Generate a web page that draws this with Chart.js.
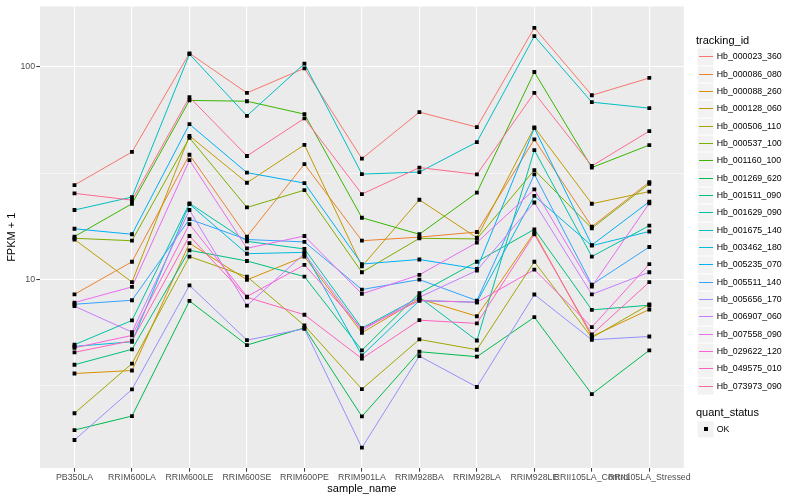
<!DOCTYPE html>
<html>
<head>
<meta charset="utf-8">
<script src="https://cdn.jsdelivr.net/npm/chart.js@4.4.0/dist/chart.umd.min.js"></script>
<style>
  body { margin: 0; background: #fff; }
  #wrap { position: relative; width: 800px; height: 500px; font-family: "Liberation Sans", Arial, sans-serif; }
  #chart { position: absolute; left: 0; top: 0; }
  .lg-title { position: absolute; left: 696px; font-size: 11px; line-height: 13px; color: #000; white-space: nowrap; }
  .lg-key { position: absolute; left: 697px; width: 17.3px; height: 17.3px; background: #F2F2F2; box-shadow: inset 0 0 0 0.5px #fff; }
  .lg-line { position: absolute; left: 1.5px; right: 1.5px; top: 8.1px; height: 1.1px; }
  .lg-text { position: absolute; left: 716.7px; font-size: 8.8px; line-height: 17.3px; color: #000; white-space: nowrap; }
</style>
</head>
<body>
<div id="wrap">
  <canvas id="chart" width="800" height="500"></canvas>
</div>
<script>
document.addEventListener("DOMContentLoaded", () => {
    const sampleNames = ["PB350LA", "RRIM600LA", "RRIM600LE", "RRIM600SE", "RRIM600PE", "RRIM901LA",
        "RRIM928BA", "RRIM928LA", "RRIM928LE", "RRII105LA_Control", "RRII105LA_Stressed"];

    // FPKM + 1, one array per tracking_id, in sampleNames order
    const hb_000023_360 = [27.8, 39.8, 116, 75.5, 98.6, 37.0, 61.3, 52.1, 153, 73.6, 88.8];
    const hb_000086_080 = [8.5, 12.1, 38.6, 15.9, 34.9, 15.2, 15.8, 16.7, 45.6, 17.7, 28.7];
    const hb_000088_260 = [3.60, 3.72, 14.8, 9.94, 12.8, 5.60, 8.09, 6.70, 16.6, 5.38, 7.21];
    const hb_000128_060 = [15.4, 9.7, 47.4, 28.5, 43.0, 11.5, 23.7, 15.7, 52.0, 22.7, 25.9];
    const hb_000506_110 = [2.34, 4.01, 12.8, 10.3, 6.06, 3.04, 5.21, 4.66, 12.1, 5.31, 7.61];
    const hb_000537_100 = [15.6, 15.2, 46.4, 21.8, 26.3, 10.8, 15.6, 15.5, 32.7, 17.4, 28.2];
    const hb_001160_100 = [15.9, 22.7, 69.6, 69.0, 60.0, 19.5, 16.3, 25.6, 94.7, 33.6, 42.9];
    const hb_001269_620 = [1.95, 2.27, 7.91, 4.90, 5.91, 2.26, 4.56, 4.32, 6.63, 2.88, 4.63];
    const hb_001511_090 = [3.96, 4.68, 13.7, 12.2, 10.3, 4.63, 8.60, 12.1, 17.2, 7.18, 7.55];
    const hb_001629_090 = [4.92, 6.40, 22.8, 15.1, 13.9, 5.89, 8.23, 5.15, 40.6, 12.8, 17.9];
    const hb_001675_140 = [21.2, 24.4, 115, 58.9, 103.7, 31.3, 32.0, 44.3, 139.8, 68.3, 64.0];
    const hb_003462_180 = [4.83, 5.08, 22.6, 13.2, 13.4, 4.38, 7.94, 7.80, 24.7, 14.4, 16.8];
    const hb_005235_070 = [17.3, 16.3, 53.8, 31.8, 28.4, 11.8, 12.4, 11.2, 51.5, 14.5, 23.2];
    const hb_005511_140 = [7.63, 7.97, 19.2, 15.4, 15.0, 8.95, 9.97, 7.94, 31.2, 9.44, 14.2];
    const hb_005656_170 = [1.75, 3.03, 9.37, 5.17, 5.85, 1.61, 4.35, 3.11, 8.48, 5.19, 5.38];
    const hb_006907_060 = [7.47, 5.64, 21.2, 7.52, 13.2, 5.74, 8.23, 11.0, 23.0, 8.5, 10.8];
    const hb_007558_090 = [7.77, 9.21, 36.4, 14.0, 16.0, 8.54, 10.5, 14.9, 26.5, 9.25, 22.8];
    const hb_029622_120 = [4.76, 5.44, 18.2, 8.29, 11.7, 5.85, 7.94, 7.80, 11.1, 5.95, 11.8];
    const hb_049575_010 = [4.53, 5.14, 16.0, 8.23, 6.81, 4.23, 6.42, 6.20, 16.3, 5.50, 9.7];
    const hb_073973_090 = [25.4, 23.6, 72.1, 38.1, 57.3, 25.2, 33.6, 31.2, 75.5, 34.2, 49.9];

    const trackingIds = ["Hb_000023_360", "Hb_000086_080", "Hb_000088_260", "Hb_000128_060", "Hb_000506_110",
        "Hb_000537_100", "Hb_001160_100", "Hb_001269_620", "Hb_001511_090", "Hb_001629_090",
        "Hb_001675_140", "Hb_003462_180", "Hb_005235_070", "Hb_005511_140", "Hb_005656_170",
        "Hb_006907_060", "Hb_007558_090", "Hb_029622_120", "Hb_049575_010", "Hb_073973_090"];
    const seriesValues = [hb_000023_360, hb_000086_080, hb_000088_260, hb_000128_060, hb_000506_110,
        hb_000537_100, hb_001160_100, hb_001269_620, hb_001511_090, hb_001629_090,
        hb_001675_140, hb_003462_180, hb_005235_070, hb_005511_140, hb_005656_170,
        hb_006907_060, hb_007558_090, hb_029622_120, hb_049575_010, hb_073973_090];

    const yTickLabels = [10, 100];
    const yMinorGrid = [3.162, 31.62];
    const yRange = [1.292, 192.8];
    const quantStatus = ["OK"];

    // ggplot default hue palette for 20 groups
    const palette = ["#F8766D", "#EA8331", "#D89000", "#C09B00", "#A3A500", "#7CAE00", "#39B600", "#00BB4E",
        "#00BF7D", "#00C1A3", "#00BFC4", "#00BAE0", "#00B0F6", "#35A2FF", "#9590FF", "#C77CFF",
        "#E76BF3", "#FA62DB", "#FF62BC", "#FF6C91"];

    const font = "'Liberation Sans', Arial, sans-serif";

    const datasets = seriesValues.map((vals, s) => ({
        label: trackingIds[s],
        data: vals.map((v, i) => ({ x: i, y: v })),
        borderColor: palette[s],
        borderWidth: 1,
        pointRadius: 0,
        fill: false,
        order: seriesValues.length - s
    }));

    const allPoints = [];
    seriesValues.forEach(vals => vals.forEach((v, i) => allPoints.push({ x: i, y: v })));
    datasets.push({
        label: quantStatus[0],
        data: allPoints,
        showLine: false,
        pointStyle: "rect",
        pointRadius: 2.7,
        pointBackgroundColor: "#000",
        pointBorderWidth: 0,
        order: -1
    });

    const panelBackground = {
        id: "panelBackground",
        beforeDraw(chart) {
            const { ctx, chartArea } = chart;
            ctx.save();
            ctx.fillStyle = "#fff";
            ctx.fillRect(0, 0, chart.width, chart.height);
            ctx.fillStyle = "#EBEBEB";
            ctx.fillRect(chartArea.left, chartArea.top, chartArea.right - chartArea.left, chartArea.bottom - chartArea.top);
            ctx.restore();
        }
    };

    const isMajorY = (v) => yTickLabels.some(t => Math.abs(t - v) < 1e-6);

    new Chart(document.getElementById("chart"), {
        type: "line",
        data: { datasets },
        plugins: [panelBackground],
        options: {
            responsive: false,
            animation: false,
            layout: { padding: { top: 5, right: 116.2, left: 0, bottom: 0 } },
            plugins: {
                legend: { display: false },
                tooltip: { enabled: false }
            },
            scales: {
                x: {
                    type: "linear",
                    min: -0.6,
                    max: sampleNames.length - 0.4,
                    afterBuildTicks: (scale) => {
                        scale.ticks = sampleNames.map((n, i) => ({ value: i }));
                    },
                    afterFit: (scale) => { scale.height = 32; },
                    border: { display: false },
                    grid: {
                        color: "#fff",
                        lineWidth: 1.1,
                        tickColor: "#333333",
                        tickLength: 3.7,
                        tickWidth: 1
                    },
                    ticks: {
                        autoSkip: false,
                        maxRotation: 0,
                        minRotation: 0,
                        padding: 0.5,
                        color: "#4D4D4D",
                        font: { family: font, size: 8.8 },
                        callback: (value) => sampleNames[value]
                    },
                    title: {
                        display: true,
                        text: "sample_name",
                        color: "#000",
                        font: { family: font, size: 11 },
                        padding: { top: 0, bottom: 4.9 }
                    }
                },
                y: {
                    type: "logarithmic",
                    min: yRange[0],
                    max: yRange[1],
                    afterBuildTicks: (scale) => {
                        scale.ticks = yMinorGrid.concat(yTickLabels).sort((a, b) => a - b).map(v => ({ value: v }));
                    },
                    afterFit: (scale) => { scale.width = 40; },
                    border: { display: false },
                    grid: {
                        color: "#fff",
                        lineWidth: (ctx) => (ctx.tick && isMajorY(ctx.tick.value) ? 1.1 : 0.55),
                        tickColor: (ctx) => (ctx.tick && isMajorY(ctx.tick.value) ? "#333333" : "rgba(0,0,0,0)"),
                        tickLength: 3.7,
                        tickWidth: 1
                    },
                    ticks: {
                        padding: 1.2,
                        color: "#4D4D4D",
                        font: { family: font, size: 8.8 },
                        callback: (value) => (isMajorY(value) ? String(value) : "")
                    },
                    title: {
                        display: true,
                        text: "FPKM + 1",
                        color: "#000",
                        font: { family: font, size: 11 },
                        padding: { top: 5.7, bottom: 0 }
                    }
                }
            }
        }
    });

    // ggplot-style legends on the right
    const wrap = document.getElementById("wrap");
    const addTitle = (text, top) => {
        const el = document.createElement("div");
        el.className = "lg-title";
        el.style.top = top + "px";
        el.textContent = text;
        wrap.appendChild(el);
    };
    const keyHeight = 17.33;

    addTitle("tracking_id", 34.2);
    trackingIds.forEach((id, i) => {
        const top = 48.3 + i * keyHeight;
        const key = document.createElement("div");
        key.className = "lg-key";
        key.style.top = top + "px";
        const line = document.createElement("div");
        line.className = "lg-line";
        line.style.background = palette[i];
        key.appendChild(line);
        wrap.appendChild(key);
        const txt = document.createElement("div");
        txt.className = "lg-text";
        txt.style.top = top + "px";
        txt.textContent = id;
        wrap.appendChild(txt);
    });

    addTitle("quant_status", 405.8);
    const okTop = 420.6;
    const okKey = document.createElement("div");
    okKey.className = "lg-key";
    okKey.style.top = okTop + "px";
    const sq = document.createElement("div");
    sq.style.cssText = "position:absolute;left:6.6px;top:6.6px;width:4px;height:4px;background:#000;";
    okKey.appendChild(sq);
    wrap.appendChild(okKey);
    const okTxt = document.createElement("div");
    okTxt.className = "lg-text";
    okTxt.style.top = okTop + "px";
    okTxt.textContent = quantStatus[0];
    wrap.appendChild(okTxt);
});
</script>
</body>
</html>
